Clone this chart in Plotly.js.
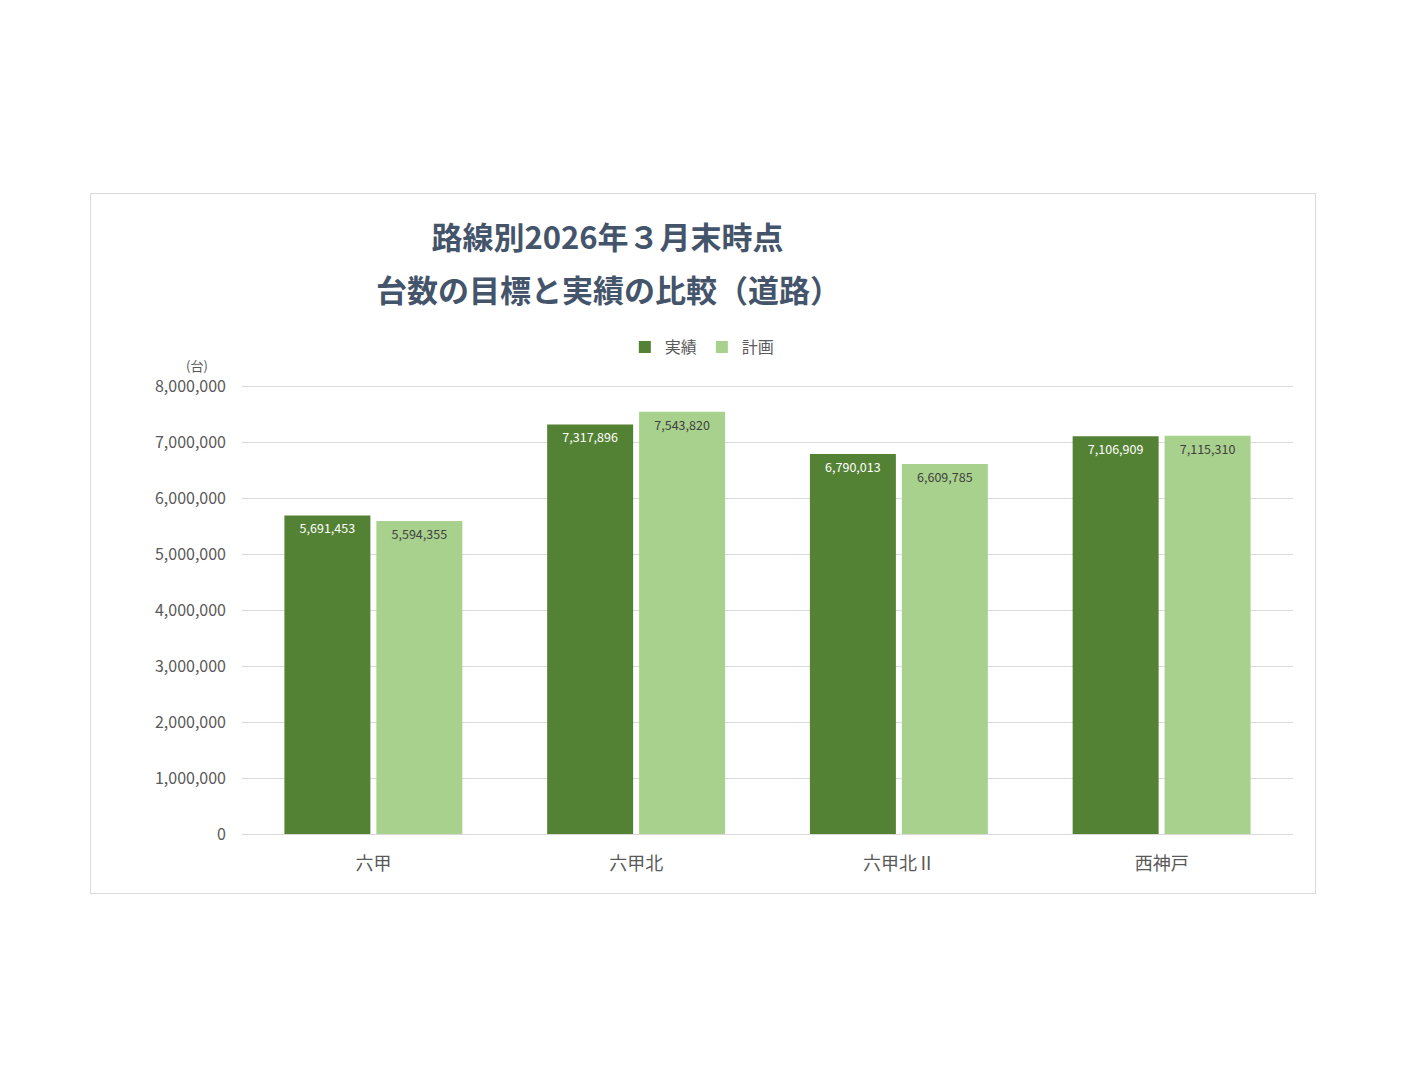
<!DOCTYPE html>
<html>
<head>
<meta charset="utf-8">
<script src="https://cdn.plot.ly/plotly-3.0.1.min.js"></script>
<style>
  body { margin: 0; background: #ffffff; }
  #frame {
    position: absolute; left: 90px; top: 193px;
    width: 1224px; height: 699px;
    border: 1px solid #d9d9d9;
  }
  #myChart { width: 1224px; height: 699px; }
</style>
</head>
<body>
<div id="frame"><div id="myChart"></div></div>
<script>
const ROUTES = ['六甲', '六甲北', '六甲北Ⅱ', '西神戸'];
const ACTUAL = [5691453, 7317896, 6790013, 7106909];
const PLAN = [5594355, 7543820, 6609785, 7115310];
const Y_TICKS = [0, 1000000, 2000000, 3000000, 4000000, 5000000, 6000000, 7000000, 8000000];

const FONT = '"Noto Sans CJK JP", "Noto Sans", sans-serif';

function fmt(v) {
    return v.toLocaleString('en-US');
}

const trace1 = {
    x: ROUTES,
    y: ACTUAL,
    type: 'bar',
    name: '実績',
    marker: { color: '#548235' },
    text: ACTUAL.map(fmt),
    textposition: 'inside',
    insidetextanchor: 'end',
    textangle: 0,
    textfont: { color: '#ffffff', size: 12.5, family: FONT },
    hoverinfo: 'skip'
};

const trace2 = {
    x: ROUTES,
    y: PLAN,
    type: 'bar',
    name: '計画',
    marker: { color: '#a9d18e' },
    text: PLAN.map(fmt),
    textposition: 'inside',
    insidetextanchor: 'end',
    textangle: 0,
    textfont: { color: '#404040', size: 12.5, family: FONT },
    hoverinfo: 'skip'
};

const layout = {
    width: 1224,
    height: 699,
    font: { family: FONT, color: '#595959' },
    paper_bgcolor: '#ffffff',
    plot_bgcolor: '#ffffff',
    margin: { t: 190, b: 59, l: 151, r: 22 },
    title: {
        text: '<b>路線別2026年３月末時点</b>',
        font: { size: 31, color: '#44546a', family: FONT },
        xref: 'container', x: 0.422, xanchor: 'center',
        yref: 'container', y: 0.937, yanchor: 'middle'
    },
    annotations: [
        {
            text: '<b>台数の目標と実績の比較（道路）</b>',
            xref: 'paper', yref: 'paper',
            x: 0.349, y: 1.212, xanchor: 'center', yanchor: 'middle',
            showarrow: false,
            font: { size: 31, color: '#44546a', family: FONT }
        },
        {
            text: '(台)',
            xref: 'paper', yref: 'paper',
            x: -0.043, y: 1.041, xanchor: 'center', yanchor: 'middle',
            showarrow: false,
            font: { size: 13, color: '#595959', family: FONT }
        }
    ],
    barmode: 'group',
    bargap: 0.30,
    bargroupgap: 0.065,
    showlegend: true,
    legend: {
        orientation: 'h',
        xref: 'paper', yref: 'paper',
        x: 0.438, xanchor: 'center',
        y: 1.082, yanchor: 'middle',
        font: { size: 16, color: '#595959', family: FONT },
        itemwidth: 30,
        tracegroupgap: 0,
        traceorder: 'normal'
    },
    xaxis: {
        tickfont: { size: 18, color: '#595959', family: FONT },
        showline: false,
        ticklabelstandoff: 17
    },
    yaxis: {
        range: [0, 8040000],
        tickvals: Y_TICKS,
        ticktext: Y_TICKS.map(fmt),
        tickfont: { size: 16, color: '#595959', family: FONT },
        gridcolor: '#d9d9d9',
        zeroline: true,
        zerolinecolor: '#d9d9d9',
        showline: false,
        ticklabelstandoff: 15,
        fixedrange: true
    },
    hovermode: false
};

Plotly.newPlot('myChart', [trace1, trace2], layout, { displayModeBar: false, staticPlot: true });
</script>
</body>
</html>
